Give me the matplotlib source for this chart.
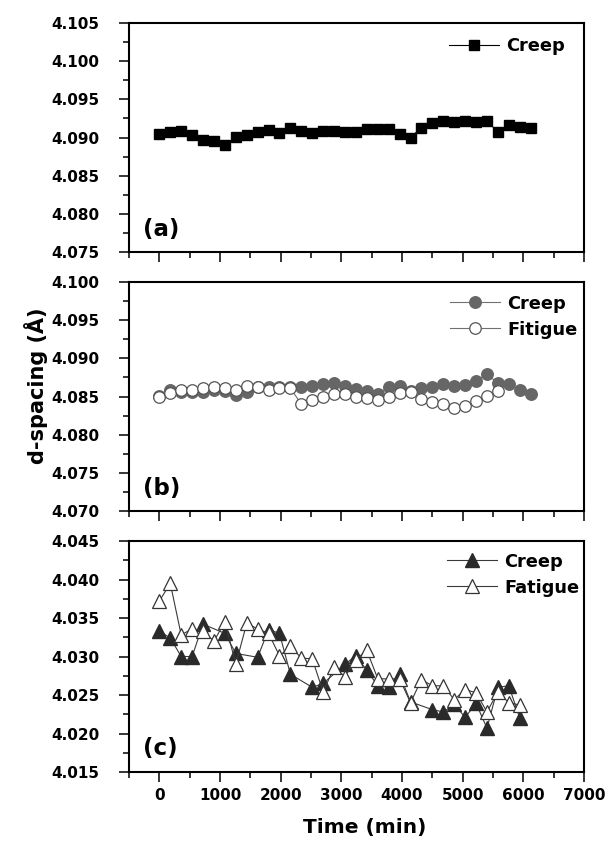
import matplotlib
matplotlib.use("Agg")
import matplotlib.pyplot as plt
from matplotlib.ticker import MultipleLocator, FormatStrFormatter

# ---- data ----
t_a = [0, 180, 360, 540, 720, 900, 1080, 1260, 1440, 1620, 1800, 1980, 2160, 2340,
       2520, 2700, 2880, 3060, 3240, 3420, 3600, 3780, 3960, 4140, 4320, 4500,
       4680, 4860, 5040, 5220, 5400, 5580, 5760, 5940, 6120]
creep_a = [4.0905, 4.0907, 4.0908, 4.0903, 4.0897, 4.0895, 4.0890, 4.0901, 4.0903,
           4.0907, 4.0910, 4.0906, 4.0912, 4.0909, 4.0906, 4.0908, 4.0909, 4.0907,
           4.0907, 4.0911, 4.0911, 4.0911, 4.0904, 4.0900, 4.0913, 4.0919, 4.0922,
           4.0921, 4.0922, 4.0920, 4.0922, 4.0907, 4.0916, 4.0914, 4.0912]

t_b_creep = t_a
creep_b = [4.0851, 4.0859, 4.0856, 4.0856, 4.0856, 4.0859, 4.0857, 4.0852, 4.0856,
           4.0863, 4.0862, 4.0863, 4.0863, 4.0863, 4.0864, 4.0866, 4.0868, 4.0864,
           4.0860, 4.0857, 4.0854, 4.0862, 4.0864, 4.0857, 4.0861, 4.0863, 4.0866,
           4.0864, 4.0865, 4.0871, 4.0879, 4.0868, 4.0866, 4.0859, 4.0854]
t_b_fat = t_a[:32]
fatigue_b = [4.0850, 4.0855, 4.0858, 4.0858, 4.0861, 4.0863, 4.0861, 4.0859, 4.0864,
             4.0863, 4.0859, 4.0861, 4.0861, 4.0840, 4.0845, 4.0850, 4.0853, 4.0853,
             4.0850, 4.0848, 4.0845, 4.0850, 4.0855, 4.0856, 4.0847, 4.0843, 4.0840,
             4.0835, 4.0838, 4.0844, 4.0851, 4.0857]

t_c_creep = [0, 180, 360, 540, 720, 1080, 1260, 1620, 1800, 1980, 2160, 2520, 2700,
             3060, 3240, 3420, 3600, 3780, 3960, 4140, 4500, 4680, 4860, 5040, 5220,
             5400, 5580, 5760, 5940]
creep_c = [4.0333, 4.0324, 4.0300, 4.0300, 4.0342, 4.0330, 4.0304, 4.0299, 4.0335,
           4.0330, 4.0277, 4.0260, 4.0265, 4.0290, 4.0301, 4.0282, 4.0262, 4.0260,
           4.0277, 4.0241, 4.0231, 4.0228, 4.0238, 4.0221, 4.0239, 4.0207, 4.0260,
           4.0262, 4.0220]
t_c_fat = t_a[:34]
fatigue_c = [4.0372, 4.0395, 4.0328, 4.0336, 4.0333, 4.0320, 4.0345, 4.0290, 4.0343,
             4.0336, 4.0330, 4.0301, 4.0313, 4.0298, 4.0297, 4.0254, 4.0286, 4.0274,
             4.0296, 4.0308, 4.0271, 4.0271, 4.0271, 4.0240, 4.0270, 4.0262, 4.0262,
             4.0244, 4.0257, 4.0253, 4.0228, 4.0254, 4.0240, 4.0237]

ylims = [(4.075, 4.105), (4.070, 4.100), (4.015, 4.045)]
panel_tags = ["(a)", "(b)", "(c)"]

plt.rcParams['font.family'] = ['DejaVu Sans']
plt.rcParams['font.weight'] = 'bold'

fig = plt.figure(figsize=(6.08, 8.44), dpi=100)
l_rects = [
    [0.2122, 0.7014, 0.7484, 0.2713],
    [0.2122, 0.3945, 0.7484, 0.2713],
    [0.2122, 0.0853, 0.7484, 0.2737],
]
l_axes = [fig.add_axes(r) for r in l_rects]

line_kw = dict(lw=0.8)
leg_kw = dict(loc='upper right', frameon=False, fontsize=12.8, handlelength=2.8,
              handletextpad=0.4, borderpad=0, borderaxespad=0,
              labelspacing=0.45, numpoints=1)

# (a) creep only
ax = l_axes[0]
ax.plot(t_a, creep_a, '-s', color='black', ms=7.2, mfc='black', mec='black',
        label='Creep', **line_kw)
ax.legend(bbox_to_anchor=(0.958, 0.94), **leg_kw)

# (b) creep vs fatigue, circles
ax = l_axes[1]
ax.plot(t_b_creep, creep_b, '-o', color='#707070', ms=8.3, mfc='#666666',
        mec='#666666', label='Creep', **line_kw)
ax.plot(t_b_fat, fatigue_b, '-o', color='#707070', ms=8.3, mfc='white',
        mec='#555555', mew=0.9, label='Fitigue', **line_kw)
ax.legend(bbox_to_anchor=(0.985, 0.945), **leg_kw)

# (c) creep vs fatigue, triangles
ax = l_axes[2]
ax.plot(t_c_creep, creep_c, '-^', color='#3a3a3a', ms=10.5, mfc='#2a2a2a',
        mec='#2a2a2a', label='Creep', **line_kw)
ax.plot(t_c_fat, fatigue_c, '-^', color='#3a3a3a', ms=10.5, mfc='white',
        mec='#333333', mew=0.9, label='Fatigue', **line_kw)
ax.legend(bbox_to_anchor=(0.99, 0.95), **leg_kw)

for i, ax in enumerate(l_axes):
    ax.set_xlim(-500, 7000)
    ax.set_ylim(*ylims[i])
    ax.xaxis.set_major_locator(MultipleLocator(1000))
    ax.xaxis.set_minor_locator(MultipleLocator(500))
    ax.yaxis.set_major_locator(MultipleLocator(0.005))
    ax.yaxis.set_minor_locator(MultipleLocator(0.0025))
    ax.yaxis.set_major_formatter(FormatStrFormatter('%.3f'))
    ax.tick_params(which='major', direction='out', length=7.5, width=1.1,
                   labelsize=11, top=False, right=False)
    ax.tick_params(which='minor', direction='out', length=4.5, width=1.1,
                   top=False, right=False)
    ax.tick_params(axis='y', which='major', pad=14)
    ax.tick_params(axis='x', which='major', pad=4)
    for s in ax.spines.values():
        s.set_linewidth(1.5)
    if i < 2:
        ax.tick_params(axis='x', labelbottom=False)
    ax.text(0.03, 0.1, panel_tags[i], transform=ax.transAxes, fontsize=16.5,
            fontweight='bold', ha='left', va='center')

l_axes[2].set_xlabel('Time (min)', fontsize=14.5, fontweight='bold')
l_axes[2].xaxis.set_label_coords(0.519, -0.2)
fig.text(0.059, 0.543, 'd-spacing (Å)', rotation=90, fontsize=15,
         fontweight='bold', ha='center', va='center')

fig.savefig('out.png', dpi=100)
